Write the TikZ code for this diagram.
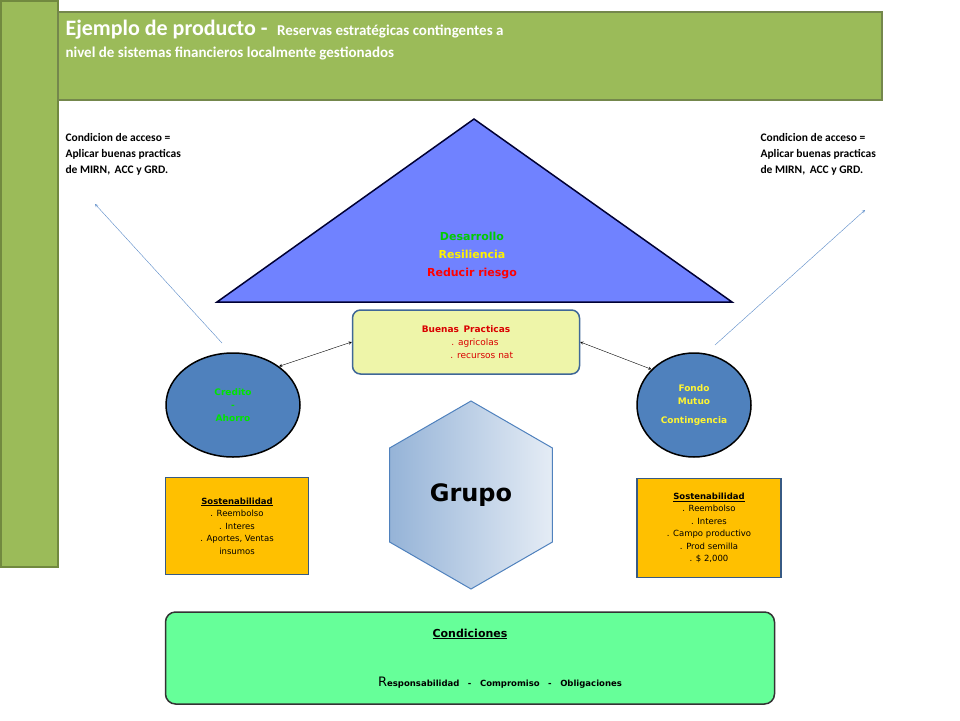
\documentclass[tikz,border=0pt]{standalone}
\usepackage{fontspec}
\setmainfont{Carlito}
\newfontfamily\verd{DejaVu Sans}
\usetikzlibrary{positioning}
\usetikzlibrary{shapes.geometric, arrows}
\usepackage{xcolor}
\definecolor{barGreen}{HTML}{9BBB59}
\definecolor{barEdge}{HTML}{71893F}
\definecolor{triBlue}{HTML}{7082FF}
\definecolor{ovalBlue}{HTML}{4F81BD}
\definecolor{boxOrange}{HTML}{FFC000}
\definecolor{bpYellow}{HTML}{EEF5A9}
\definecolor{condGreen}{HTML}{66FF99}
\definecolor{arrowBlue}{HTML}{5B8BC8}

\begin{document}
\begin{tikzpicture}[x=1pt, y=-1pt,
  every node/.style={align=center},
  oval/.style={ellipse, draw=black, line width=1.5pt, fill=ovalBlue, font=\verd\bfseries\fontsize{9}{13}\selectfont},
  sostbox/.style={rectangle, draw=ovalBlue!70!black, line width=1.2pt, fill=boxOrange, font=\verd\fontsize{8.5}{12.5}\selectfont}]

\useasboundingbox (0,0) rectangle (960,720);

% Bars
\draw[barEdge, line width=1.5pt, fill=barGreen] (1,1) rectangle (58,567);
\draw[barEdge!80!gray, line width=1.5pt, fill=barGreen] (58,12) rectangle (882,100);
\node (title) [anchor=north west, align=left, text=white, font=\bfseries\fontsize{15}{22}\selectfont] at (62,17)
  {{\fontsize{22}{24}\selectfont Ejemplo de producto -\;} Reservas estratégicas contingentes a\\nivel de sistemas financieros localmente gestionados};

% Access conditions
\node (accL) [anchor=north west, align=left, font=\bfseries\fontsize{11.5}{16}\selectfont] at (62,130)
  {Condicion de acceso =\\Aplicar buenas practicas\\de MIRN,\, ACC y GRD.};
\node (accR) [anchor=north west, align=left, font=\bfseries\fontsize{11.5}{16}\selectfont] at (757,130)
  {Condicion de acceso =\\Aplicar buenas practicas\\de MIRN,\, ACC y GRD.};

% Triangle
\draw[line width=1.5pt, draw=black!80!blue, fill=triBlue] (474,119) -- (732,302) -- (217,302) -- cycle;
\node (goals) [font=\verd\bfseries\fontsize{11}{18}\selectfont] at (472,256)
  {\textcolor{green!80!black}{Desarrollo}\\\textcolor{yellow}{Resiliencia}\\\textcolor{red}{Reducir riesgo}};

% Buenas practicas
\node (bp) [rectangle, rounded corners=8pt, draw=ovalBlue!80!black, line width=1.5pt, fill=bpYellow,
  minimum width=227pt, minimum height=64pt, font=\verd\fontsize{9}{13}\selectfont] at (466,342)
  {\textcolor{red!85!black}{\bfseries Buenas\, Practicas}\\\textcolor{red!85!black}{\hspace*{2em}. agricolas}\\\textcolor{red!85!black}{\hspace*{3.5em}. recursos nat}};

% Ovals
\node (credito) [oval, minimum width=134pt, minimum height=104pt, text=green!90!black] at (233,405) {Credito\\-\\Ahorro};
\node (fondo) [oval, minimum width=114pt, minimum height=104pt, text=yellow!80!white] at (694,405) {Fondo\\Mutuo\\[6pt]Contingencia};

% Group
\node (grupo) [regular polygon, regular polygon sides=6, shape border rotate=30, minimum size=188pt, inner sep=0pt,
  draw=ovalBlue, line width=1pt, left color=ovalBlue!60, right color=ovalBlue!15,
  font=\verd\bfseries\fontsize{24}{28}\selectfont] at (471,495) {Grupo};

% Sostenabilidad boxes
\node (sostL) [sostbox, minimum width=143pt, minimum height=97pt] at (237,526)
  {\bfseries\underline{Sostenabilidad}\\. Reembolso\\. Interes\\. Aportes, Ventas\\insumos};
\node (sostR) [sostbox, minimum width=144pt, minimum height=99pt] at (709,528)
  {\bfseries\underline{Sostenabilidad}\\. Reembolso\\. Interes\\. Campo productivo\\. Prod semilla\\. \$ 2,000};

% Condiciones
\node (cond) [rectangle, rounded corners=10pt, draw=black!80, line width=1.5pt, fill=condGreen,
  minimum width=609pt, minimum height=92pt] at (470,658) {};
\node (condT) [font=\verd\bfseries\fontsize{11}{14}\selectfont] at (470,634) {\underline{Condiciones}};
\node (condB) [font=\verd\bfseries\fontsize{8.5}{12}\selectfont] at (500,683)
  {{\fontsize{13}{14}\selectfont\mdseries R}esponsabilidad\quad -\quad Compromiso\quad -\quad Obligaciones};

% Arrows
\coordinate (tipL) at (95,204);
\coordinate (tipR) at (865,210);
\draw[->, >=stealth, arrowBlue] (222,343) -- (tipL);
\draw[->, >=stealth, arrowBlue] (715,345) -- (tipR);
\draw[<->, >=stealth, black] (credito.40) -- (bp.west);
\draw[<->, >=stealth, black] (bp.east) -- (fondo.140);

\end{tikzpicture}
\end{document}
